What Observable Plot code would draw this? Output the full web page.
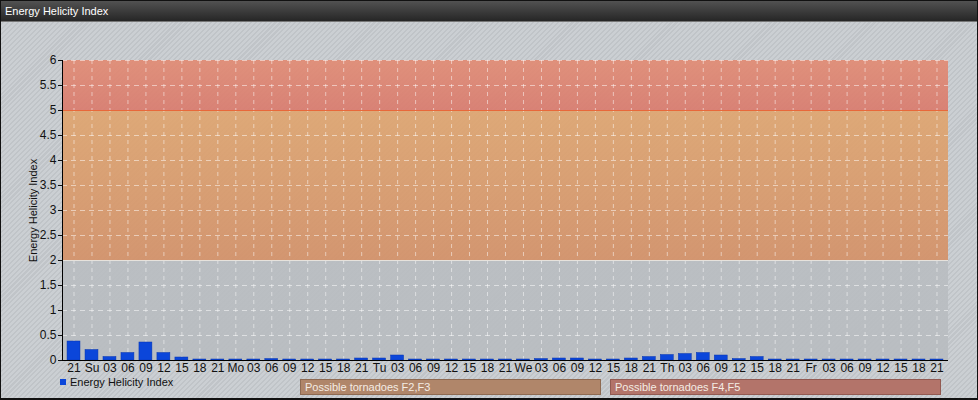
<!DOCTYPE html>
<html><head><meta charset="utf-8">
<script src="https://cdn.jsdelivr.net/npm/d3@7"></script>
<script src="https://cdn.jsdelivr.net/npm/@observablehq/plot@0.6"></script>
<style>
html,body{margin:0;padding:0;background:#fff;}
#wrap{position:relative;width:978px;height:400px;overflow:hidden;
 background:repeating-linear-gradient(135deg,#c0c4c8 0px,#c0c4c8 1.5px,#cbcfd3 1.5px,#cbcfd3 3.5px);
 font-family:"Liberation Sans",Arial,sans-serif;}
#border{position:absolute;left:0;top:0;width:976px;height:397px;border:1px solid #111;border-bottom:2px solid #111;pointer-events:none;}
#title{position:absolute;left:0;top:0;width:978px;height:22px;background:linear-gradient(#545454,#262626);color:#fff;font-size:11px;line-height:22px;padding-left:5px;box-sizing:border-box;border-bottom:1px solid #777;}
#chart{position:absolute;left:0;top:22px;}
.leg{position:absolute;font-size:11px;}
#legSeries{left:60px;top:376px;color:#111;}
#legSeries span{display:inline-block;width:6px;height:6px;background:#0b46da;margin-right:4px;vertical-align:1px;}
.zone{position:absolute;top:379px;height:16px;box-sizing:border-box;color:#f4ece4;font-size:11px;line-height:15px;padding-left:4px;}
</style></head>
<body>
<div id="wrap">
 <div id="title">Energy Helicity Index</div>
 <div id="chart"></div>
 <div class="leg" id="legSeries"><span></span>Energy Helicity Index</div>
 <div class="zone" id="z1"></div>
 <div class="zone" id="z2"></div>
 <div id="border"></div>
</div>
<script>
// x-axis labels (3-hourly steps)
const periodLabels = ["21","Su","03","06","09","12","15","18","21","Mo","03","06","09","12","15","18","21","Tu","03","06","09","12","15","18","21","We","03","06","09","12","15","18","21","Th","03","06","09","12","15","18","21","Fr","03","06","09","12","15","18","21"];
// Energy Helicity Index values
const ehiValues = [0.38,0.21,0.07,0.15,0.36,0.15,0.06,0.02,0.02,0.02,0.02,0.03,0.02,0.02,0.02,0.02,0.04,0.04,0.10,0.02,0.02,0.02,0.02,0.02,0.02,0.02,0.03,0.04,0.04,0.02,0.02,0.04,0.07,0.11,0.13,0.15,0.10,0.03,0.07,0.02,0.02,0.02,0.02,0.02,0.02,0.02,0.02,0.02,0.02];
// threshold zones
const zoneLow = [0, 2, 5];
const zoneHigh = [2, 5, 6];
const zoneFill = ["url(#gGrey)", "url(#gOrange)", "url(#gRed)"];
const zoneNames = ["Possible tornadoes F2,F3", "Possible tornadoes F4,F5"];
const yTicks = [0,0.5,1,1.5,2,2.5,3,3.5,4,4.5,5,5.5,6];

const data = ehiValues.map((v, i) => ({i, v}));
const zones = zoneLow.map((lo, k) => ({lo, hi: zoneHigh[k], fill: zoneFill[k]}));

const chart = Plot.plot({
  width: 978, height: 360,
  marginTop: 38, marginBottom: 22, marginLeft: 62, marginRight: 30,
  style: {background: "transparent", fontFamily: "'Liberation Sans', Arial, sans-serif", fontSize: "11px", color: "#111"},
  x: {type: "band", domain: d3.range(periodLabels.length), padding: 0.28, axis: null},
  y: {domain: [0, 6], axis: null},
  marks: [
    Plot.rect(zones, {y1: "lo", y2: "hi", fill: "fill", fillOpacity: 0.9}),
    Plot.gridX({stroke: "#ffffff", strokeOpacity: 0.5, strokeDasharray: "4,4"}),
    Plot.gridY(yTicks, {stroke: "#ffffff", strokeOpacity: 0.5, strokeDasharray: "5,4"}),
    Plot.ruleY([5], {stroke: "#e8683a", strokeWidth: 1}),
    Plot.ruleY([2], {stroke: "#e6e2dc", strokeWidth: 1}),
    Plot.barY(data, {x: "i", y: "v", fill: "#0b46da", stroke: "#0836b0", strokeWidth: 0.5}),
    Plot.axisY({ticks: yTicks, tickSize: 4, tickFormat: d => String(d), tickPadding: 2, fill: "#111", fontSize: 12,
      label: null}),
    Plot.axisY({ticks: [], label: "Energy Helicity Index", labelAnchor: "center", labelArrow: "none", labelOffset: 33, fontSize: 11, fill: "#111"}),
    Plot.axisX({tickSize: 0, tickPadding: 3, tickFormat: i => periodLabels[i], fill: "#111", fontSize: 12, label: null}),
    Plot.frame({anchor: "left", stroke: "#000"}),
    Plot.ruleY([0], {stroke: "#000", strokeWidth: 1.2})
  ]
});
const svg = d3.select(chart);
const defs = svg.insert("defs", ":first-child");
function grad(id, top, bottom) {
  const g = defs.append("linearGradient").attr("id", id).attr("x1", 0).attr("y1", 0).attr("x2", 0).attr("y2", 1);
  g.append("stop").attr("offset", 0).attr("stop-color", top);
  g.append("stop").attr("offset", 1).attr("stop-color", bottom);
}
grad("gGrey", "#b9bdc1", "#b8bcc0");
grad("gOrange", "#e0a56e", "#d49066");
grad("gRed", "#e28a72", "#da7a6c");
document.getElementById("chart").appendChild(chart);

const z1 = document.getElementById("z1"), z2 = document.getElementById("z2");
z1.textContent = zoneNames[0]; z2.textContent = zoneNames[1];
Object.assign(z1.style, {left: "300px", width: "301px", background: "#b0866a", border: "1px solid #8e6a52"});
Object.assign(z2.style, {left: "610px", width: "331px", background: "#b3746a", border: "1px solid #925a52"});
</script>
</body></html>
